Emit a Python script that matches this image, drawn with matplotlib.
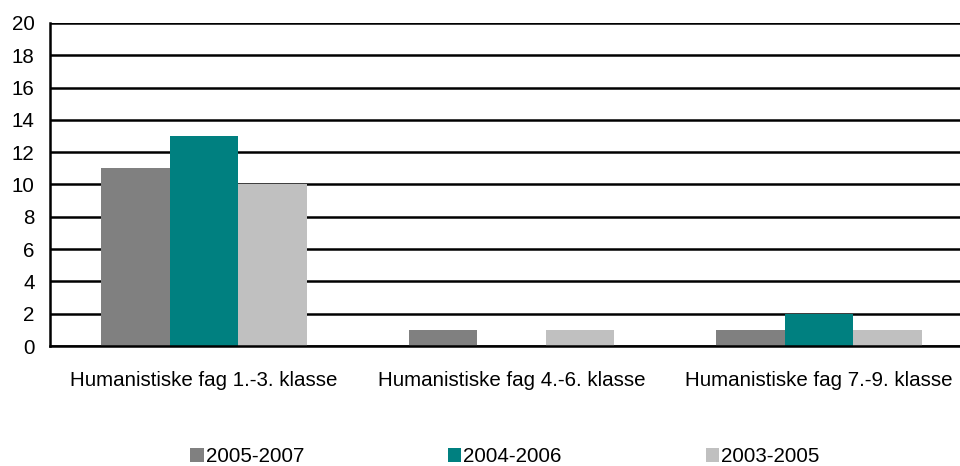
import numpy as np
import matplotlib.pyplot as plt

plt.rcParams['font.family'] = ['Liberation Sans', 'DejaVu Sans']

categories = ["Humanistiske fag 1.-3. klasse", "Humanistiske fag 4.-6. klasse", "Humanistiske fag 7.-9. klasse"]
series = ["2005-2007", "2004-2006", "2003-2005"]
values_2005_2007 = [11, 1, 1]
values_2004_2006 = [13, 0, 2]
values_2003_2005 = [10, 1, 1]
colors = ["#808080", "#008080", "#c0c0c0"]

fig = plt.figure(figsize=(9.6, 4.66), dpi=100)
# plot area runs a bit past the right edge, like the original
ax = fig.add_axes([50 / 960, 1 - 346 / 466, 923 / 960, 323 / 466])

x = np.arange(len(categories))
w = 0.223
for i, (vals, name) in enumerate(zip([values_2005_2007, values_2004_2006, values_2003_2005], series)):
    ax.bar(x + (i - 1) * w, vals, w, color=colors[i], label=name, zorder=3)

ax.set_xlim(-0.5, 2.5)
ax.set_ylim(0, 20)
ax.set_yticks(range(0, 21, 2))
ax.set_xticks(x)
ax.set_xticklabels(categories)
ax.tick_params(axis='both', length=0, labelsize=14.8)
ax.tick_params(axis='x', pad=18)
ax.tick_params(axis='y', pad=11)
ax.grid(axis='y', color='black', linewidth=1.8, zorder=1)
for s in ['top', 'right']:
    ax.spines[s].set_visible(False)
ax.spines['left'].set_linewidth(1.8)
ax.spines['bottom'].set_linewidth(1.8)
ax.spines['bottom'].set_zorder(4)

fig.legend(loc='center', bbox_to_anchor=(0.526, 0.020), ncol=3, frameon=False,
           fontsize=14.8, handlelength=0.65, handleheight=0.65, handletextpad=0.1,
           columnspacing=7.0)

fig.savefig("out.png", dpi=100)
